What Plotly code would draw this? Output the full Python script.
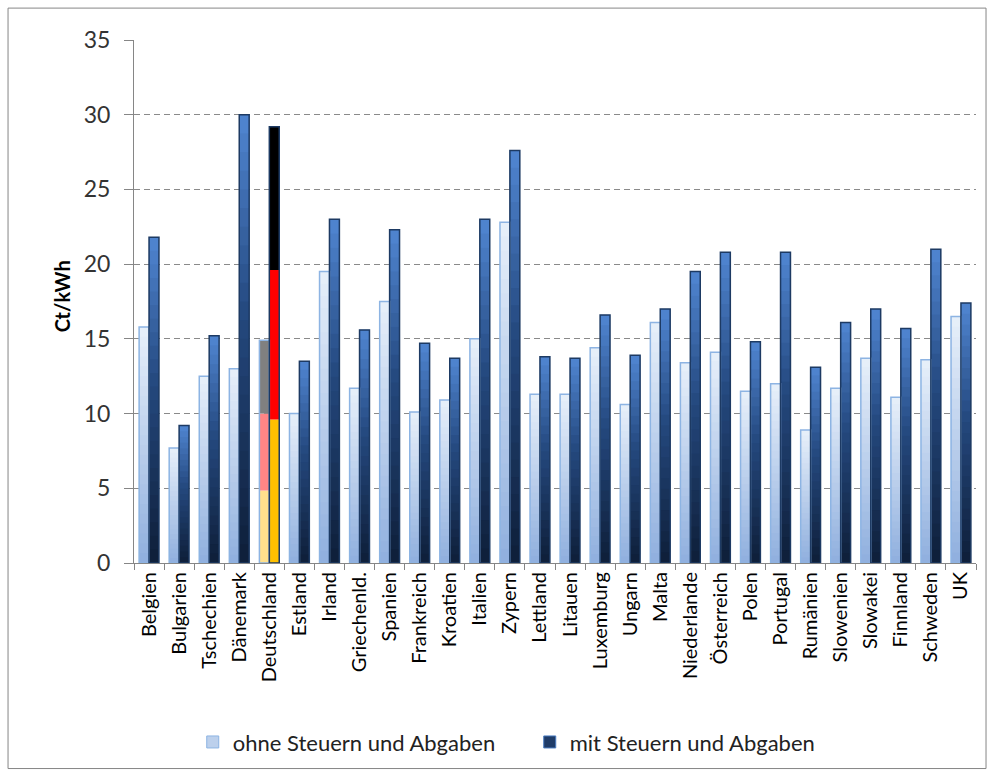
import plotly.graph_objects as go

countries = ["Belgien", "Bulgarien", "Tschechien", "Dänemark", "Deutschland", "Estland",
             "Irland", "Griechenld.", "Spanien", "Frankreich", "Kroatien", "Italien",
             "Zypern", "Lettland", "Litauen", "Luxemburg", "Ungarn", "Malta",
             "Niederlande", "Österreich", "Polen", "Portugal", "Rumänien", "Slowenien",
             "Slowakei", "Finnland", "Schweden", "UK"]

ohne = [15.8, 7.7, 12.5, 13.0, 14.9, 10.0, 19.5, 11.7, 17.5, 10.1, 10.9, 15.0,
        22.8, 11.3, 11.3, 14.4, 10.6, 16.1, 13.4, 14.1, 11.5, 12.0, 8.9, 11.7,
        13.7, 11.1, 13.6, 16.5]
mit = [21.8, 9.2, 15.2, 30.0, 29.2, 13.5, 23.0, 15.6, 22.3, 14.7, 13.7, 23.0,
       27.6, 13.8, 13.7, 16.6, 13.9, 17.0, 19.5, 20.8, 14.8, 20.8, 13.1, 16.1,
       17.0, 15.7, 21.0, 17.4]

# Deutschland: bars drawn in flag colours (parts bottom to top)
de_ohne_parts = [4.85, 5.15, 4.9]
de_mit_parts = [9.6, 10.0, 9.6]
de_ohne_colors = ["#ffe08c", "#ff8585", "#808080"]
de_mit_colors = ["#ffc000", "#ff0000", "#000000"]

series_names = ["ohne Steuern und Abgaben", "mit Steuern und Abgaben"]

DE = countries.index("Deutschland")
N = 24

def lerp(c1, c2, t):
    return "rgb(%d,%d,%d)" % tuple(round(a + (b - a) * t) for a, b in zip(c1, c2))

light_bottom, light_top = (143, 175, 222), (232, 240, 250)
dark_bottom, dark_mid, dark_top = (14, 30, 56), (36, 72, 126), (80, 134, 210)

def dark_color(t):
    if t < 0.55:
        return lerp(dark_bottom, dark_mid, t / 0.55)
    return lerp(dark_mid, dark_top, (t - 0.55) / 0.45)

W = 0.33
OFF_L, OFF_D = -0.33, 0.0

fig = go.Figure()

# gradient fill: overlapping slices drawn bottom to top (later slices cover seams)
for vals, off, colfn in [(ohne, OFF_L, lambda t: lerp(light_bottom, light_top, t)),
                         (mit, OFF_D, dark_color)]:
    for k in range(N):
        bs = [v * k / N for v in vals]
        ys = [None if i == DE else min(v - b, 2.0 * v / N) for i, (v, b) in enumerate(zip(vals, bs))]
        fig.add_trace(go.Bar(x=countries, y=ys, base=bs, offset=off, width=W,
                             marker=dict(color=colfn((k + 0.5) / N), line=dict(width=0)),
                             showlegend=False, hoverinfo="skip"))

# Deutschland flag segments
for parts, cols, off in [(de_ohne_parts, de_ohne_colors, OFF_L), (de_mit_parts, de_mit_colors, OFF_D)]:
    b = 0
    for p, c in zip(parts, cols):
        fig.add_trace(go.Bar(x=[countries[DE]], y=[p], base=[b], offset=off, width=W,
                             marker=dict(color=c, line=dict(width=0)),
                             showlegend=False, hoverinfo="skip"))
        b += p

# outlines
fig.add_trace(go.Bar(x=countries, y=ohne, offset=OFF_L, width=W,
                     marker=dict(color="rgba(0,0,0,0)", line=dict(color="#8db4e3", width=1.5)),
                     showlegend=False, hoverinfo="skip"))
fig.add_trace(go.Bar(x=countries, y=mit, offset=OFF_D, width=W,
                     marker=dict(color="rgba(0,0,0,0)", line=dict(color="#1d3a63", width=1.5)),
                     showlegend=False, hoverinfo="skip"))

# legend entries
fig.add_trace(go.Bar(x=[None], y=[None], name=series_names[0],
                     marker=dict(color="#bcd0ec", line=dict(color="#8db4e3", width=1))))
fig.add_trace(go.Bar(x=[None], y=[None], name=series_names[1],
                     marker=dict(color="#1f3c68", line=dict(color="#4a7cc0", width=1))))

fig.update_layout(
    width=994, height=774,
    barmode="overlay",
    margin=dict(l=134, r=18, t=40, b=210),
    plot_bgcolor="white", paper_bgcolor="white",
    font=dict(family="Lato, Open Sans, sans-serif", color="#000000"),
    showlegend=True,
    legend=dict(orientation="h", x=0.47, xanchor="center", y=-0.34, yanchor="middle",
                font=dict(size=22, color="#222"), traceorder="normal",
                entrywidth=292, entrywidthmode="pixels", itemwidth=30),
    xaxis=dict(type="category", range=[-0.5, len(countries) - 0.5],
               tickangle=-90, tickfont=dict(size=20, color="#000"),
               showline=True, linecolor="#868686", linewidth=1,
               ticks="outside", tickson="boundaries", ticklen=6, tickcolor="#868686",
               showgrid=False, zeroline=False),
    yaxis=dict(range=[0, 35], dtick=5, tickfont=dict(size=23, color="#333"),
               showline=True, linecolor="#868686", linewidth=1,
               ticks="outside", ticklen=9, tickcolor="#868686", ticklabelstandoff=9,
               showgrid=True, gridcolor="#8a8a8a", griddash="6px,4px", gridwidth=1,
               zeroline=False),
    annotations=[dict(text="<b>Ct/kWh</b>", xref="paper", yref="paper",
                      x=-0.0855, y=0.51, xanchor="center", yanchor="middle",
                      textangle=-90, showarrow=False,
                      font=dict(size=20, color="#000"))],
    shapes=[dict(type="rect", xref="paper", yref="paper",
                 x0=-0.1496, x1=1.0119, y0=-0.393, y1=1.061,
                 line=dict(color="#868686", width=1), fillcolor="rgba(0,0,0,0)", layer="below")],
)

fig.write_html("out.html")
